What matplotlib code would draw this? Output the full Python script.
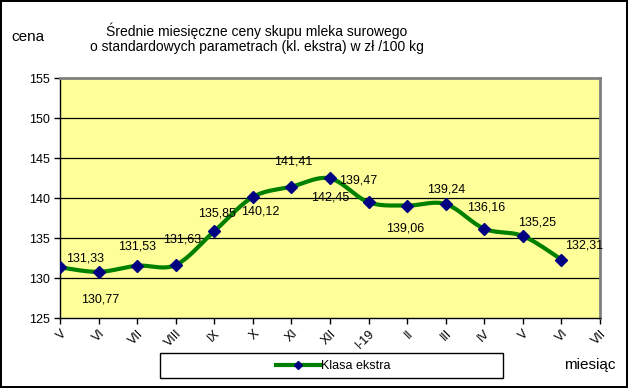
import numpy as np
import matplotlib.pyplot as plt
from matplotlib.patches import Rectangle
from matplotlib.lines import Line2D

plt.rcParams['font.family'] = ['Liberation Sans', 'DejaVu Sans']

# Data
months = ['V', 'VI', 'VII', 'VIII', 'IX', 'X', 'XI', 'XII', 'I-19',
          'II', 'III', 'IV', 'V', 'VI', 'VII']
prices = [131.33, 130.77, 131.53, 131.63, 135.85, 140.12, 141.41, 142.45,
          139.47, 139.06, 139.24, 136.16, 135.25, 132.31]
labels = ['131,33', '130,77', '131,53', '131,63', '135,85', '140,12', '141,41',
          '142,45', '139,47', '139,06', '139,24', '136,16', '135,25', '132,31']
# label offsets in pixels (dx, dy)
offsets = [(25, 9), (2, -28), (0, 19), (6, 25), (3, 18), (7, -14), (2, 25),
           (0, -19), (-10, 22), (-2, -23), (0, 15), (2, 21), (14, 14), (23, 14)]


def smooth(x, y, n=20):
    # bezier curve through points, like Excel's smoothed line
    x = np.asarray(x, float)
    y = np.asarray(y, float)
    px = np.concatenate([[x[0]], x, [x[-1]]])
    py = np.concatenate([[y[0]], y, [y[-1]]])
    xs, ys = [], []
    t = np.linspace(0, 1, n)
    for i in range(1, len(px) - 2):
        for p, out in ((px, xs), (py, ys)):
            p0, p1, p2, p3 = p[i - 1], p[i], p[i + 1], p[i + 2]
            b1 = p1 + (p2 - p0) / 6
            b2 = p2 - (p3 - p1) / 6
            out.extend((1 - t) ** 3 * p1 + 3 * (1 - t) ** 2 * t * b1
                       + 3 * (1 - t) * t ** 2 * b2 + t ** 3 * p2)
    return np.array(xs), np.array(ys)


fig = plt.figure(figsize=(6.28, 3.88), dpi=100)
fig.patch.set_edgecolor('black')
fig.patch.set_linewidth(1.5)

ax = fig.add_axes([60 / 628, 70 / 388, 540 / 628, 240 / 388])
ax.set_facecolor('#FFFF99')

x = np.arange(len(prices))
sx, sy = smooth(x, prices)
ax.plot(sx, sy, color='#008000', lw=3, solid_capstyle='round', zorder=3)
ax.plot(x, prices, ls='none', marker='D', color='#000080', ms=6, zorder=4)

for xi, yi, lab, (dx, dy) in zip(x, prices, labels, offsets):
    ax.annotate(lab, (xi, yi), xytext=(dx, dy), textcoords='offset pixels',
                ha='center', va='center', fontsize=9, zorder=5)

ax.set_xlim(0, len(months) - 1)
ax.set_ylim(125, 155)
ax.set_yticks(np.arange(125, 156, 5))
ax.set_xticks(np.arange(len(months)))
ax.set_xticklabels(months, rotation=45, ha='right', va='top',
                   rotation_mode='anchor', fontsize=9)
ax.tick_params(axis='y', labelsize=9, length=4, width=1, direction='out')
ax.tick_params(axis='x', length=4, width=1, direction='out', pad=3)
for yv in range(130, 155, 5):
    ax.axhline(yv, color='black', lw=0.9, zorder=1)
for s in ('left', 'bottom'):
    ax.spines[s].set_color('black')
    ax.spines[s].set_linewidth(1)
for s in ('top', 'right'):
    ax.spines[s].set_color('#808080')
    ax.spines[s].set_linewidth(2)

fig.text(257 / 628, 1 - 31 / 388, 'Średnie miesięczne ceny skupu mleka surowego',
         ha='center', va='center', fontsize=10)
fig.text(257 / 628, 1 - 47 / 388,
         'o standardowych parametrach (kl. ekstra) w zł /100 kg',
         ha='center', va='center', fontsize=10)
fig.text(28 / 628, 1 - 37 / 388, 'cena', ha='center', va='center', fontsize=11)
fig.text(590 / 628, 1 - 365 / 388, 'miesiąc', ha='center', va='center', fontsize=11)

# legend box
fig.patches.append(Rectangle((160 / 628, 1 - 378 / 388), 343 / 628, 25 / 388,
                             transform=fig.transFigure, facecolor='white',
                             edgecolor='black', lw=1))
handle = Line2D([], [], color='#008000', lw=3, marker='D', markerfacecolor='#000080',
                markeredgecolor='#000080', ms=4)
fig.legend([handle], ['Klasa ekstra'], loc='center',
           bbox_to_anchor=(333 / 628, 1 - 366 / 388), frameon=False,
           fontsize=9, handlelength=3.5, handletextpad=0.1)

fig.savefig('out.png', dpi=100)
